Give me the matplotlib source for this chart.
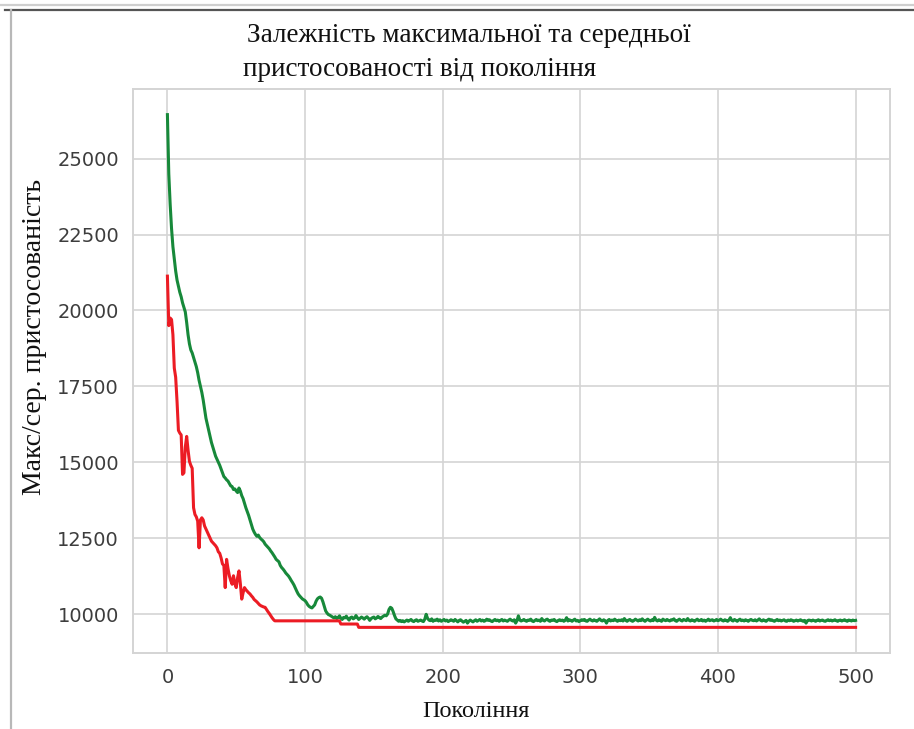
import numpy as np
import matplotlib
matplotlib.use("Agg")
import matplotlib.pyplot as plt
from matplotlib.lines import Line2D

# Mean fitness of the population per generation (gens 0..500)
mean_fitness = [
    26450, 24500, 23500, 22700, 22100, 21700, 21300, 21000, 20800, 20600,
    20450, 20250, 20100, 19950, 19600, 19200, 18900, 18700, 18600, 18450,
    18300, 18150, 17950, 17700, 17500, 17300, 17050, 16750, 16450, 16250,
    16050, 15850, 15650, 15500, 15350, 15200, 15100, 15000, 14900, 14780,
    14650, 14530, 14480, 14420, 14380, 14300, 14220, 14200, 14100, 14120,
    14050, 14000, 14150, 14050, 13900, 13800, 13650, 13500, 13380, 13250,
    13100, 12950, 12800, 12700, 12620, 12560, 12600, 12520, 12470, 12430,
    12380, 12300, 12250, 12200, 12150, 12080, 12020, 11950, 11880, 11800,
    11760, 11720, 11600, 11530, 11480, 11420, 11350, 11300, 11250, 11180,
    11100, 11030, 10950, 10850, 10750, 10660, 10600, 10550, 10500, 10470,
    10440, 10380, 10300, 10250, 10220, 10200, 10250, 10300, 10420, 10500,
    10540, 10560, 10520, 10400, 10250, 10100, 10030, 9980, 9960, 9930,
    9900,
    9870, 9910, 9850, 9880, 9940, 9860, 9820, 9890, 9870, 9930,
    9850, 9800, 9880, 9900, 9840, 9870, 9950, 9880, 9820, 9860,
    9900, 9870, 9830, 9880, 9910, 9860, 9790, 9850, 9880, 9900,
    9840, 9870, 9920, 9880, 9850, 9900, 9930, 9960, 9940,
    10000, 10150, 10220, 10190, 10080, 9950, 9840,
    9800, 9760, 9790, 9750, 9780, 9740, 9770, 9800, 9760, 9790, 9820, 9770, 9750, 9790, 9810, 9760, 9780, 9800, 9770, 9750,
    9830, 9990, 9860, 9800, 9780, 9840, 9760, 9800, 9790, 9830, 9770, 9810, 9760, 9790, 9820, 9770, 9800, 9750, 9780, 9810,
    9790, 9760, 9820, 9780, 9740, 9790, 9810, 9770, 9730, 9760, 9790, 9700, 9760, 9800, 9770, 9740, 9780, 9810, 9760, 9790,
    9820, 9770, 9800, 9760, 9780, 9830, 9790, 9810, 9770, 9750, 9790, 9820, 9780, 9800, 9760, 9790, 9820, 9770, 9800, 9780,
    9760, 9800, 9830, 9790, 9770, 9810, 9700, 9780, 9940, 9800, 9770, 9790, 9820, 9780, 9760, 9800, 9790, 9830, 9770, 9750,
    9790, 9820, 9780, 9800, 9760, 9850, 9790, 9770, 9810, 9830, 9780, 9760, 9800, 9790, 9820, 9770, 9750, 9790, 9810, 9780,
    9800, 9760, 9790, 9880, 9770, 9810, 9790, 9760, 9800, 9830, 9770, 9790, 9750, 9780, 9810, 9790, 9820, 9770, 9760, 9800,
    9830, 9790, 9770, 9810, 9780, 9760, 9800, 9840, 9790, 9770, 9810, 9780, 9700, 9790, 9820, 9770, 9800, 9780, 9830, 9790,
    9760, 9800, 9780, 9810, 9770, 9850, 9790, 9760, 9800, 9820, 9780, 9760, 9790, 9830, 9800, 9770, 9810, 9780, 9840, 9790,
    9760, 9800, 9830, 9790, 9770, 9810, 9780, 9890, 9800, 9770, 9810, 9790, 9760, 9830, 9800, 9780, 9820, 9790, 9770, 9810,
    9800, 9840, 9780, 9760, 9800, 9830, 9790, 9770, 9820, 9800, 9780, 9850, 9790, 9770, 9810, 9790, 9760, 9800, 9830, 9780,
    9790, 9820, 9770, 9800, 9760, 9790, 9830, 9780, 9800, 9810, 9770, 9790, 9820, 9780, 9800, 9830, 9790, 9770, 9810, 9790,
    9760, 9800, 9880, 9790, 9770, 9820, 9790, 9760, 9800, 9830, 9780, 9800, 9770, 9810, 9790, 9760, 9800, 9820, 9790, 9780,
    9810, 9770, 9800, 9840, 9790, 9770, 9810, 9780, 9760, 9800, 9830, 9790, 9810, 9780, 9760, 9790, 9820, 9780, 9800, 9770,
    9790, 9810, 9770, 9760, 9800, 9780, 9810, 9790, 9760, 9780, 9800, 9770, 9790, 9810, 9780, 9760, 9790, 9700, 9780, 9800,
    9790, 9770, 9800, 9780, 9760, 9790, 9810, 9770, 9790, 9800, 9770, 9760, 9790, 9810, 9780, 9800, 9770, 9790, 9810, 9780,
    9760, 9790, 9800, 9770, 9790, 9810, 9780, 9760, 9800, 9790, 9770, 9800, 9780, 9790,
]
mean_gens = np.arange(len(mean_fitness))

# Best fitness: every generation up to 78, then plateau vertices only
best_gens = list(range(0, 79)) + [125, 126, 138, 139, 500]
best_fitness = [
    21130, 19500, 19750, 19700, 19200, 18100, 17800, 17000, 16050, 15960,
    15900, 14600, 14650, 15500, 15850, 15400, 15030, 14900, 14800, 13500,
    13280, 13200, 13060, 12180, 13100, 13170, 13100, 12900, 12800, 12700,
    12600, 12500, 12400, 12350, 12300, 12250, 12180, 12050, 12000, 11850,
    11650, 11600, 10870, 11800, 11500, 11260, 11100, 10980, 11260, 11000,
    10870, 11200, 11420, 11000, 10490, 10700, 10870, 10800, 10750, 10700,
    10660, 10600, 10550, 10480, 10440, 10400, 10350, 10300, 10270, 10250,
    10230, 10220, 10150, 10080, 10020, 9950, 9880, 9820, 9775,
    9775, 9670, 9670, 9560, 9560,
]

x_ticks = [0, 100, 200, 300, 400, 500]
y_ticks = [10000, 12500, 15000, 17500, 20000, 22500, 25000]

title_lines = ["Залежність максимальної та середньої", "пристосованості від покоління"]
x_label = "Покоління"
y_label = "Макс/сер. пристосованість"

W, H = 914, 729
fig = plt.figure(figsize=(W / 100, H / 100), dpi=100)
ax = fig.add_axes([133 / W, 1 - 653 / H, (890 - 133) / W, (653 - 89) / H])

grid_c = "#d4d4d4"
ax.set_facecolor("white")
ax.grid(True, color=grid_c, linewidth=1.2)
ax.set_axisbelow(True)
for s in ax.spines.values():
    s.set_color(grid_c)
    s.set_linewidth(1.4)

ax.plot(mean_gens, mean_fitness, color="#17893a", linewidth=2.2, zorder=3)
ax.plot(best_gens, best_fitness, color="#ec1c24", linewidth=2.2, zorder=3)

ax.margins(x=0.05, y=0.05)
ax.set_xticks(x_ticks)
ax.set_yticks(y_ticks)
ax.tick_params(length=0, labelsize=14, labelcolor="#3d3d3d")
ax.tick_params(axis="y", pad=10)
ax.tick_params(axis="x", pad=11)
for lbl in ax.get_xticklabels() + ax.get_yticklabels():
    lbl.set_family("DejaVu Sans")

serif = "Liberation Serif"
fig.text(247 / W, 1 - 42 / H, title_lines[0], family=serif, fontsize=19.5,
         ha="left", va="baseline", color="#111111")
fig.text(243 / W, 1 - 76 / H, title_lines[1], family=serif, fontsize=19.5,
         ha="left", va="baseline", color="#111111")
fig.text(476 / W, 1 - 717 / H, x_label, family=serif, fontsize=17.5,
         ha="center", va="baseline", color="#111111")
fig.text(35 / W, 1 - 337 / H, y_label, family=serif, fontsize=20,
         ha="center", va="center", rotation=90, color="#111111")

# page frame lines
fig.add_artist(Line2D([0, 1], [1 - 5 / H, 1 - 5 / H], color="#cfcfcf", linewidth=1.6))
fig.add_artist(Line2D([5 / W, 1], [1 - 9.8 / H, 1 - 9.8 / H], color="#555555", linewidth=1.6))
fig.add_artist(Line2D([11 / W, 11 / W], [0, 1 - 10 / H], color="#b8b8b8", linewidth=1.6))

fig.savefig("out.png", dpi=100)
